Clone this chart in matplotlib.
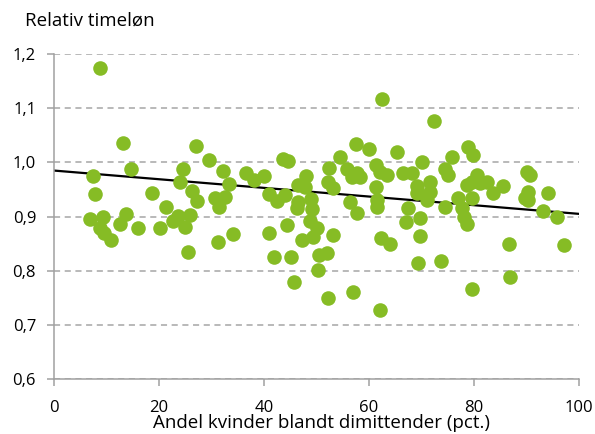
import matplotlib.pyplot as plt
import numpy as np
from matplotlib.ticker import FuncFormatter

plt.rcParams['font.family'] = ['Open Sans', 'DejaVu Sans']

# share of women among graduates (pct.) and relative hourly wage
andel_kvinder = [
    6.9, 7.4, 7.8, 8.8, 9.3, 8.8, 9.5, 10.9, 12.6, 13.1,
    13.7, 14.7, 16.0, 18.7, 20.2, 21.3, 22.7, 23.6, 24.0, 24.6,
    25.0, 25.5, 25.9, 26.3, 27.1, 27.2, 29.5, 30.7, 32.6, 31.4,
    31.2, 32.2, 33.3, 34.1, 36.6, 38.1, 40.0, 41.0, 41.0, 41.9,
    42.5, 44.0, 43.6, 44.6, 44.4, 45.1, 45.7, 46.5, 48.0, 47.8,
    46.3, 46.5, 49.0, 49.1, 48.8, 50.1, 49.3, 47.2, 50.5, 52.0,
    50.3, 52.2, 53.1, 52.4, 52.2, 53.1, 54.5, 55.8, 56.8, 57.7,
    58.3, 57.5, 57.0, 56.4, 57.7, 60.0, 61.3, 62.1, 63.4, 61.3,
    61.5, 61.5, 62.1, 62.3, 64.0, 62.5, 65.3, 66.5, 68.2, 69.1,
    69.1, 67.4, 67.1, 69.7, 69.7, 69.3, 70.1, 71.6, 71.6, 71.1,
    72.4, 74.5, 75.1, 75.8, 74.5, 73.7, 77.0, 77.7, 78.1, 78.7,
    78.7, 79.6, 80.6, 81.1, 82.5, 79.6, 78.9, 79.8, 79.6, 83.6,
    85.5, 86.7, 86.9, 90.1, 90.7, 90.3, 89.7, 90.3, 94.1, 93.1,
    95.8, 97.1,
]
relativ_timeloen = [
    0.896, 0.975, 0.942, 1.175, 0.900, 0.879, 0.870, 0.857, 0.887, 1.036,
    0.905, 0.988, 0.879, 0.944, 0.879, 0.918, 0.892, 0.901, 0.964, 0.987,
    0.881, 0.835, 0.903, 0.948, 1.031, 0.929, 1.005, 0.935, 0.937, 0.918,
    0.853, 0.985, 0.961, 0.868, 0.981, 0.968, 0.975, 0.942, 0.870, 0.826,
    0.929, 0.940, 1.007, 1.003, 0.885, 0.826, 0.779, 0.959, 0.975, 0.955,
    0.916, 0.927, 0.933, 0.914, 0.892, 0.879, 0.863, 0.857, 0.829, 0.833,
    0.802, 0.750, 0.866, 0.990, 0.964, 0.953, 1.011, 0.987, 0.974, 0.981,
    0.974, 1.035, 0.761, 0.926, 0.907, 1.025, 0.996, 0.983, 0.977, 0.955,
    0.931, 0.918, 0.728, 0.861, 0.850, 1.118, 1.020, 0.981, 0.981, 0.957,
    0.944, 0.916, 0.890, 0.898, 0.865, 0.815, 1.000, 0.964, 0.946, 0.931,
    1.077, 0.988, 0.977, 1.011, 0.918, 0.818, 0.935, 0.916, 0.900, 0.887,
    0.959, 0.964, 0.977, 0.962, 0.964, 0.935, 1.029, 1.014, 0.767, 0.944,
    0.957, 0.850, 0.789, 0.983, 0.977, 0.946, 0.935, 0.931, 0.944, 0.911,
    0.900, 0.848,
]

# linear trend
trend_intercept = 0.985
trend_slope = -0.0008

fig = plt.figure(figsize=(5.95, 4.34), dpi=100)
ax = fig.add_axes([0.091, 0.127, 0.882, 0.748])

ax.scatter(andel_kvinder, relativ_timeloen, s=110, color='#86BC25',
           linewidths=0, zorder=3, clip_on=False)

xs = np.array([0, 100])
ax.plot(xs, trend_intercept + trend_slope * xs, color='black', lw=1.6, zorder=2)

ax.set_xlim(0, 100)
ax.set_ylim(0.6, 1.2)
ax.set_xticks(np.arange(0, 101, 20))
ax.set_yticks(np.arange(0.6, 1.21, 0.1))
ax.yaxis.set_major_formatter(FuncFormatter(lambda v, p: f'{v:.1f}'.replace('.', ',')))

ax.grid(axis='y', color='#A6A6A6', linestyle=(0, (4, 3)), lw=1.1, zorder=1)
ax.set_axisbelow(True)
for side in ('top', 'right'):
    ax.spines[side].set_visible(False)
for side in ('left', 'bottom'):
    ax.spines[side].set_color('#A0A0A0')
    ax.spines[side].set_linewidth(1.1)

ax.tick_params(axis='both', colors='#A0A0A0', labelcolor='black',
               labelsize=12, length=5, width=1.1)
ax.tick_params(axis='y', pad=8)
ax.tick_params(axis='x', pad=10)

fig.text(0.541, 0.004, 'Andel kvinder blandt dimittender (pct.)', fontsize=13.5,
         ha='center', va='bottom')
fig.text(0.042, 0.952, 'Relativ timeløn', fontsize=13.5, va='center', ha='left')

fig.savefig('out.png', dpi=100)
